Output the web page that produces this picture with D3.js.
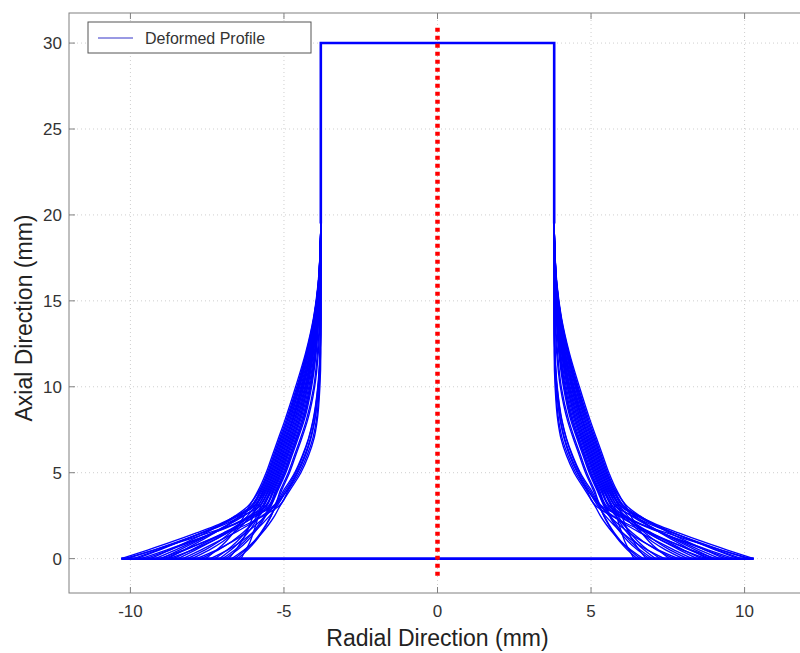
<!DOCTYPE html>
<html>
<head>
<meta charset="utf-8">
<title>Deformed Profile</title>
<script src="https://cdn.jsdelivr.net/npm/d3@7"></script>
<style>
  body { margin: 0; background: #fff; }
  svg { display: block; font-family: "Liberation Sans", Arial, sans-serif; }
  .tick-label { font-size: 17px; fill: #333; }
  .axis-title { font-size: 23px; fill: #222; }
</style>
</head>
<body>
<svg id="chart" width="800" height="653"></svg>
<script>
// axial levels (mm) at which each profile radius was read
var LEVELS = [0, 0.5, 1, 1.5, 2, 2.5, 3, 4, 5, 6, 7, 8, 10, 12, 14, 16, 18, 19.5];
var TOP_Z = 30;
var TOP_R = 3.8;

// radius (mm) of each deformed profile at LEVELS
var PROFILES = [
  [10.3, 9.44, 8.62, 7.85, 7.12, 6.52, 6.0, 5.67, 5.42, 5.22, 5.02, 4.82, 4.49, 4.21, 4.0, 3.87, 3.82, 3.8],
  [10.2, 9.24, 8.32, 7.46, 6.64, 5.97, 5.39, 5.0, 4.65, 4.4, 4.2, 4.06, 3.9, 3.83, 3.81, 3.8, 3.8, 3.8],
  [10.1, 9.24, 8.43, 7.66, 6.93, 6.33, 5.82, 5.51, 5.26, 5.06, 4.86, 4.67, 4.36, 4.12, 3.95, 3.86, 3.81, 3.8],
  [9.9, 9.12, 8.38, 7.68, 7.01, 6.47, 6.0, 5.67, 5.42, 5.22, 5.02, 4.82, 4.49, 4.21, 4.0, 3.87, 3.82, 3.8],
  [9.8, 9.06, 8.36, 7.69, 7.06, 6.54, 6.1, 5.75, 5.5, 5.3, 5.1, 4.9, 4.55, 4.25, 4.02, 3.88, 3.82, 3.8],
  [9.65, 8.83, 8.04, 7.3, 6.6, 6.02, 5.53, 5.27, 5.02, 4.82, 4.62, 4.43, 4.16, 3.99, 3.89, 3.83, 3.81, 3.8],
  [9.5, 8.73, 7.99, 7.29, 6.64, 6.09, 5.63, 5.35, 5.1, 4.9, 4.7, 4.51, 4.23, 4.04, 3.91, 3.84, 3.81, 3.8],
  [9.35, 8.72, 8.12, 7.55, 7.02, 6.58, 6.2, 5.83, 5.58, 5.38, 5.18, 4.98, 4.62, 4.29, 4.04, 3.89, 3.82, 3.8],
  [9.2, 8.54, 7.92, 7.32, 6.77, 6.3, 5.91, 5.59, 5.34, 5.14, 4.94, 4.74, 4.42, 4.16, 3.98, 3.86, 3.82, 3.8],
  [9.05, 8.28, 7.55, 6.86, 6.2, 5.66, 5.2, 4.85, 4.5, 4.25, 4.06, 3.95, 3.85, 3.81, 3.8, 3.8, 3.8, 3.8],
  [9.0, 8.41, 7.85, 7.32, 6.82, 6.4, 6.05, 5.71, 5.46, 5.26, 5.06, 4.86, 4.52, 4.23, 4.01, 3.88, 3.82, 3.8],
  [8.9, 8.22, 7.57, 6.95, 6.37, 5.89, 5.48, 5.23, 4.98, 4.78, 4.58, 4.39, 4.13, 3.97, 3.88, 3.83, 3.8, 3.8],
  [8.8, 8.26, 7.75, 7.26, 6.8, 6.42, 6.1, 5.75, 5.5, 5.3, 5.1, 4.9, 4.55, 4.25, 4.02, 3.88, 3.82, 3.8],
  [8.75, 7.99, 7.37, 6.87, 6.46, 6.11, 5.82, 5.51, 5.26, 5.06, 4.86, 4.67, 4.36, 4.12, 3.95, 3.86, 3.81, 3.8],
  [8.6, 8.02, 7.48, 6.96, 6.47, 6.07, 5.72, 5.43, 5.18, 4.98, 4.78, 4.59, 4.29, 4.08, 3.93, 3.85, 3.81, 3.8],
  [8.45, 7.89, 7.35, 6.84, 6.36, 5.97, 5.63, 5.35, 5.1, 4.9, 4.7, 4.51, 4.23, 4.04, 3.91, 3.84, 3.81, 3.8],
  [8.3, 7.71, 7.15, 6.61, 6.11, 5.7, 5.34, 4.95, 4.62, 4.38, 4.19, 4.05, 3.89, 3.82, 3.8, 3.8, 3.8, 3.8],
  [8.15, 7.58, 7.12, 6.75, 6.44, 6.18, 5.96, 5.63, 5.38, 5.18, 4.98, 4.78, 4.45, 4.19, 3.99, 3.87, 3.82, 3.8],
  [8.0, 7.44, 6.99, 6.63, 6.33, 6.07, 5.86, 5.55, 5.3, 5.1, 4.9, 4.71, 4.39, 4.14, 3.97, 3.86, 3.82, 3.8],
  [7.85, 7.2, 6.67, 6.24, 5.89, 5.59, 5.34, 5.11, 4.86, 4.66, 4.46, 4.28, 4.03, 3.91, 3.84, 3.82, 3.8, 3.8],
  [7.7, 7.15, 6.7, 6.34, 6.05, 5.79, 5.58, 5.31, 5.06, 4.86, 4.66, 4.47, 4.19, 4.01, 3.9, 3.84, 3.81, 3.8],
  [7.55, 7.19, 6.89, 6.65, 6.46, 6.29, 6.15, 5.79, 5.54, 5.34, 5.14, 4.94, 4.58, 4.27, 4.03, 3.88, 3.82, 3.8],
  [7.4, 6.84, 6.39, 6.02, 5.72, 5.46, 5.25, 4.9, 4.58, 4.33, 4.14, 4.01, 3.88, 3.82, 3.8, 3.8, 3.8, 3.8],
  [7.25, 6.85, 6.53, 6.27, 6.06, 5.87, 5.72, 5.43, 5.18, 4.98, 4.78, 4.59, 4.29, 4.08, 3.93, 3.85, 3.81, 3.8],
  [7.1, 6.73, 6.43, 6.18, 5.98, 5.81, 5.67, 5.39, 5.14, 4.94, 4.74, 4.55, 4.26, 4.06, 3.92, 3.84, 3.81, 3.8],
  [7.0, 6.6, 6.29, 6.03, 5.81, 5.63, 5.48, 5.23, 4.98, 4.78, 4.58, 4.39, 4.13, 3.97, 3.88, 3.83, 3.8, 3.8],
  [6.9, 6.52, 6.21, 5.97, 5.76, 5.59, 5.44, 5.19, 4.94, 4.74, 4.54, 4.35, 4.1, 3.95, 3.87, 3.82, 3.8, 3.8],
  [6.8, 6.57, 6.38, 6.23, 6.11, 6.0, 5.91, 5.59, 5.34, 5.14, 4.94, 4.74, 4.42, 4.16, 3.98, 3.86, 3.82, 3.8],
  [6.7, 6.3, 5.97, 5.71, 5.49, 5.3, 5.15, 4.8, 4.45, 4.2, 4.02, 3.92, 3.83, 3.8, 3.8, 3.8, 3.8, 3.8],
  [6.6, 6.26, 5.98, 5.76, 5.58, 5.42, 5.29, 5.07, 4.82, 4.62, 4.42, 4.24, 4.0, 3.88, 3.83, 3.81, 3.8, 3.8],
  [6.5, 6.19, 5.93, 5.73, 5.56, 5.41, 5.29, 4.88, 4.55, 4.3, 4.12, 4.0, 3.87, 3.82, 3.8, 3.8, 3.8, 3.8],
  [6.4, 6.24, 6.1, 6.0, 5.91, 5.83, 5.77, 5.47, 5.22, 5.02, 4.82, 4.63, 4.32, 4.1, 3.94, 3.85, 3.81, 3.8]
];

// centre line
var AXIS_LINE = [[0, -1], [0, 31]];

var X_TICKS = [-10, -5, 0, 5, 10];
var Y_TICKS = [0, 5, 10, 15, 20, 25, 30];

var svg = d3.select('#chart');
var x = d3.scaleLinear().domain([-12, 12]).range([69, 806]);
var y = d3.scaleLinear().domain([-2, 31.75]).range([593, 13]);

// grid
var grid = svg.append('g').attr('stroke', '#cfcfcf').attr('stroke-dasharray', '1,3');
X_TICKS.forEach(function (t) {
  grid.append('line').attr('x1', x(t)).attr('x2', x(t)).attr('y1', y.range()[0]).attr('y2', y.range()[1]);
});
Y_TICKS.forEach(function (t) {
  grid.append('line').attr('x1', x.range()[0]).attr('x2', x.range()[1]).attr('y1', y(t)).attr('y2', y(t));
});

// profiles
var side = d3.line().x(function (d) { return x(d[0]); }).y(function (d) { return y(d[1]); })
  .curve(d3.curveMonotoneY);
var straight = d3.line().x(function (d) { return x(d[0]); }).y(function (d) { return y(d[1]); });
var prof = svg.append('g').attr('fill', 'none').attr('stroke', '#0000ff').attr('stroke-width', 1.35);

PROFILES.forEach(function (radii) {
  [1, -1].forEach(function (s) {
    var pts = LEVELS.map(function (z, i) { return [s * radii[i], z]; });
    pts.push([s * TOP_R, TOP_Z]);
    prof.append('path').attr('d', side(pts));
  });
  prof.append('path').attr('d', straight([[-radii[0], 0], [radii[0], 0]]));
  prof.append('path').attr('d', straight([[-TOP_R, TOP_Z], [TOP_R, TOP_Z]]));
});
// overlapping common edges read as heavier lines
var zTop = LEVELS[LEVELS.length - 1];
var rMax = d3.max(PROFILES, function (p) { return p[0]; });
prof.append('path').attr('stroke-width', 2.6)
  .attr('d', straight([[-TOP_R, zTop], [-TOP_R, TOP_Z], [TOP_R, TOP_Z], [TOP_R, zTop]]));
prof.append('path').attr('stroke-width', 2.6)
  .attr('d', straight([[-rMax, 0], [rMax, 0]]));

// red centre line
svg.append('path').attr('d', straight(AXIS_LINE))
  .attr('stroke', '#ff0000').attr('stroke-width', 4.5).attr('stroke-dasharray', '4,4').attr('fill', 'none');

// axes box
var frame = svg.append('g').attr('stroke', '#808080').attr('fill', 'none');
frame.append('rect').attr('x', x.range()[0]).attr('y', y.range()[1])
  .attr('width', x.range()[1] - x.range()[0]).attr('height', y.range()[0] - y.range()[1]);
X_TICKS.forEach(function (t) {
  frame.append('line').attr('x1', x(t)).attr('x2', x(t)).attr('y1', y.range()[0]).attr('y2', y.range()[0] - 6);
  frame.append('line').attr('x1', x(t)).attr('x2', x(t)).attr('y1', y.range()[1]).attr('y2', y.range()[1] + 6);
});
Y_TICKS.forEach(function (t) {
  frame.append('line').attr('x1', x.range()[0]).attr('x2', x.range()[0] + 6).attr('y1', y(t)).attr('y2', y(t));
});

// tick labels
X_TICKS.forEach(function (t) {
  svg.append('text').attr('class', 'tick-label').attr('x', x(t)).attr('y', 617)
    .attr('text-anchor', 'middle').text(t);
});
Y_TICKS.forEach(function (t) {
  svg.append('text').attr('class', 'tick-label').attr('x', 62).attr('y', y(t) + 6)
    .attr('text-anchor', 'end').text(t);
});

svg.append('text').attr('class', 'axis-title').attr('x', x(0)).attr('y', 646)
  .attr('text-anchor', 'middle').text('Radial Direction (mm)');
svg.append('text').attr('class', 'axis-title')
  .attr('transform', 'translate(32,' + y(14) + ') rotate(-90)')
  .attr('text-anchor', 'middle').text('Axial Direction (mm)');

// legend
var leg = svg.append('g');
leg.append('rect').attr('x', 88).attr('y', 22).attr('width', 223).attr('height', 31)
  .attr('fill', '#fff').attr('stroke', '#555');
leg.append('line').attr('x1', 98).attr('x2', 133).attr('y1', 38).attr('y2', 38)
  .attr('stroke', '#3535c8').attr('stroke-width', 1);
leg.append('text').attr('x', 145).attr('y', 44).attr('font-size', 16).attr('fill', '#333')
  .text('Deformed Profile');
</script>
</body>
</html>
